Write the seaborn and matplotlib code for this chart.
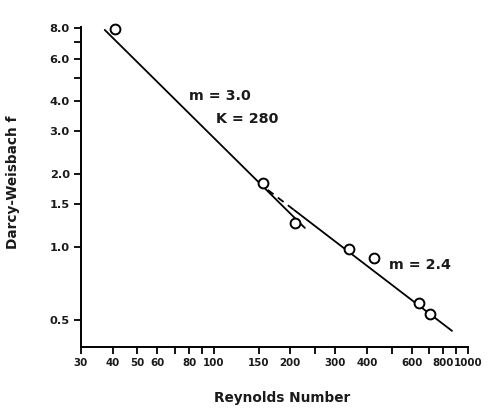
import matplotlib
matplotlib.use("Agg")
import matplotlib.pyplot as plt
import seaborn as sns
import pandas as pd
from matplotlib.ticker import FixedLocator, NullLocator, FixedFormatter, NullFormatter

# Observed friction factors
reynolds = [41, 156, 208, 340, 427, 641, 709]
friction = [7.96, 1.84, 1.26, 0.98, 0.90, 0.587, 0.528]

# Fitted line, m = 3.0, K = 280
fit1_re = [37.2, 228]
fit1_f = [7.88, 1.198]

# Fitted line, m = 2.4 (dashed where extrapolated)
fit2_dash_re = [163, 207]
fit2_dash_f = [1.72, 1.42]
fit2_re = [207, 865]
fit2_f = [1.42, 0.45]

x_ticks = [30, 40, 50, 60, 70, 80, 90, 100, 150, 200, 250, 300, 400, 500,
           600, 700, 800, 900, 1000]
x_labels = ["30", "40", "50", "60", "", "80", "", "100", "150", "200",
            "", "300", "400", "", "600", "", "800", "", "1000"]
y_ticks = [0.5, 1.0, 1.5, 2.0, 3.0, 4.0, 5.0, 6.0, 7.0, 8.0]
y_labels = ["0.5", "1.0", "1.5", "2.0", "3.0", "4.0", "", "6.0", "", "8.0"]

sns.set_theme(style="ticks")
plt.rcParams["font.family"] = ["DejaVu Sans"]
plt.rcParams["font.weight"] = "bold"

ink = "#1a1a1a"

fig = plt.figure(figsize=(4.92, 4.09), dpi=100)
ax = fig.add_axes([81 / 492, 62 / 409, 387 / 492, 320 / 409])

obs = pd.DataFrame({"re": reynolds, "f": friction})
sns.lineplot(x=fit1_re, y=fit1_f, ax=ax, color="black", lw=1.3)
sns.lineplot(x=fit2_dash_re, y=fit2_dash_f, ax=ax, color="black", lw=1.3,
             linestyle=(0, (4, 3)))
sns.lineplot(x=fit2_re, y=fit2_f, ax=ax, color="black", lw=1.3)
sns.scatterplot(data=obs, x="re", y="f", ax=ax, marker="o", s=50,
                facecolor="white", edgecolor="black", linewidth=1.4,
                zorder=5, clip_on=False)

ax.set_xscale("log")
ax.set_yscale("log")
ax.set_xlim(30, 1000)
ax.set_ylim(0.386, 8.1)

ax.xaxis.set_major_locator(FixedLocator(x_ticks))
ax.xaxis.set_major_formatter(FixedFormatter(x_labels))
ax.xaxis.set_minor_locator(NullLocator())
ax.xaxis.set_minor_formatter(NullFormatter())
ax.yaxis.set_major_locator(FixedLocator(y_ticks))
ax.yaxis.set_major_formatter(FixedFormatter(y_labels))
ax.yaxis.set_minor_locator(NullLocator())
ax.yaxis.set_minor_formatter(NullFormatter())

ax.tick_params(axis="both", direction="out", length=5, width=1.3,
               color="black", pad=3, labelcolor=ink)
ax.tick_params(axis="x", labelsize=7.4)
ax.tick_params(axis="y", labelsize=8.2)

sns.despine(ax=ax)
for side in ("left", "bottom"):
    ax.spines[side].set_linewidth(1.4)
    ax.spines[side].set_color("black")

ax.set_xlabel("Reynolds Number", fontsize=9.8, fontweight="bold", color=ink)
ax.set_ylabel("Darcy-Weisbach f", fontsize=9.8, fontweight="bold", color=ink)
ax.xaxis.set_label_coords(0.519, -0.16)
ax.xaxis.label.set_va("center")
ax.yaxis.set_label_coords(-0.176, 0.516)
ax.yaxis.label.set_va("center")

txt = dict(fontsize=10.3, fontweight="bold", color=ink, ha="center", va="center")
ax.text(105.6, 4.21, "m = 3.0", **txt)
ax.text(134.9, 3.38, "K = 280", **txt)
ax.text(647, 0.842, "m = 2.4", **txt)

fig.savefig("out.png", dpi=100, facecolor="white")
